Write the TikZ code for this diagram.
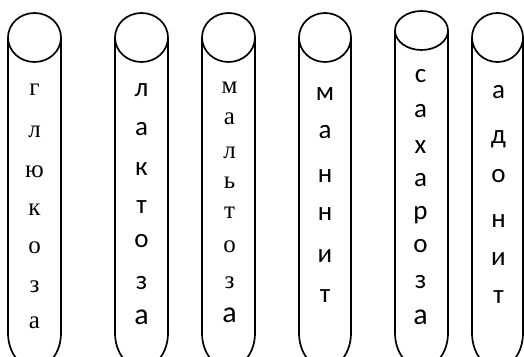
\documentclass[tikz,border=0pt]{standalone}
\usepackage{fontspec}
\setmainfont{Liberation Serif}
\newfontfamily\sansf{Carlito}
\newcommand\drawtube[4]{% #1 left x, #2 right x, #3 top centre y, #4 top y radius
  \pgfmathsetmacro\tcx{(#1+#2)/2}%
  \pgfmathsetmacro\trx{(#2-#1)/2}%
  \draw[tubeline] (\tcx,#3) ellipse [x radius=\trx pt, y radius=#4pt];
  \draw[tubeline] (#1,#3) -- (#1,333) arc[start angle=180,end angle=360,x radius=\trx pt,y radius=35pt] -- (#2,#3);
}
\begin{document}
\begin{tikzpicture}[x=1pt,y=-1pt,
  tubeline/.style={line width=1.7pt},
  ser/.style={font=\fontsize{25}{25}\selectfont, anchor=base, inner sep=0pt},
  san/.style={font=\sansf\fontsize{27}{27}\selectfont, anchor=base, inner sep=0pt},
  sanb/.style={font=\sansf\fontsize{30}{30}\selectfont, anchor=base, inner sep=0pt}]
\useasboundingbox (0,0) rectangle (524,356);
\clip (0,0) rectangle (524,356);
\drawtube{8}{61}{37.5}{24.5}
\drawtube{115}{168}{37.5}{24.5}
\drawtube{202}{255}{37.5}{24.5}
\drawtube{299}{351}{37.5}{24.5}
\drawtube{395}{448}{30.5}{19.5}
\drawtube{472}{523}{37.5}{24.5}
% tube 1
\foreach \ch/\yy [count=\i] in {г/90,л/132,ю/172,к/210,о/248,з/287,а/323}
  \node[ser,name=ta-\i] at (34.5,\yy+5.5) {\ch};
% tube 2
\foreach \ch/\yy [count=\i] in {л/90,а/129,к/169,т/207,о/241,з/283}
  \node[san,name=tb-\i] at (141.5,\yy+6.3) {\ch};
\node[sanb,name=tb-7] at (141.5,317+7) {а};
% tube 3
\foreach \ch/\yy [count=\i] in {м/88,а/119,л/153,ь/183,т/213,о/247,з/283}
  \node[ser,name=tc-\i] at (229.5,\yy+5.5) {\ch};
\node[sanb,name=tc-8] at (229.5,315+7) {а};
% tube 4
\foreach \ch/\yy [count=\i] in {м/94,а/132,н/176,н/214,и/256,т/296}
  \node[san,name=td-\i] at (325,\yy+6.3) {\ch};
% tube 5
\foreach \ch/\yy [count=\i] in {с/76,а/111,х/147,а/180,р/213,о/246,з/282}
  \node[san,name=te-\i] at (420.5,\yy+6.3) {\ch};
\node[sanb,name=te-8] at (420.5,317+7) {а};
% tube 6
\foreach \ch/\yy [count=\i] in {а/92,д/137,о/176,н/221,и/259,т/297}
  \node[san,name=tf-\i] at (498.5,\yy+6.3) {\ch};
\end{tikzpicture}
\end{document}
